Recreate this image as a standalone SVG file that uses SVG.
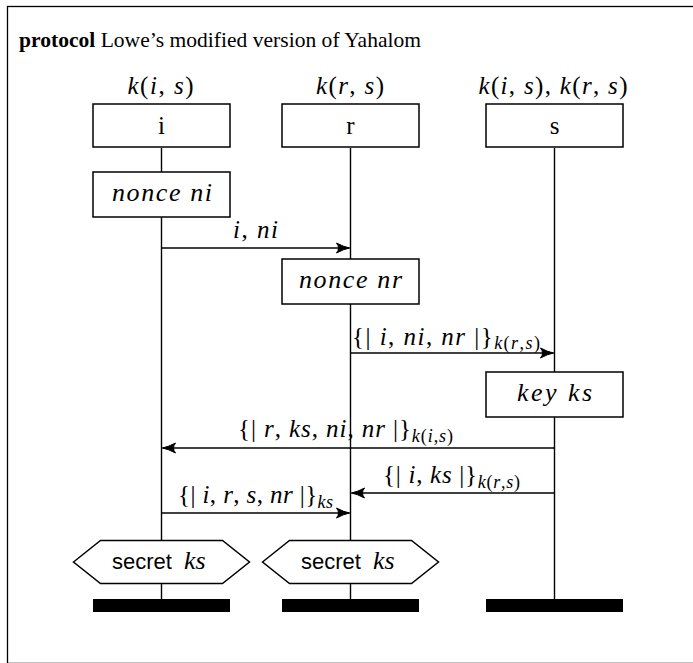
<svg xmlns="http://www.w3.org/2000/svg" width="693" height="663" viewBox="0 0 693 663">
<defs>
<marker id="arr" markerWidth="16" markerHeight="12" refX="0" refY="0" viewBox="-14 -6 15 12" orient="auto" markerUnits="userSpaceOnUse">
<path d="M-13,-5 Q-6,-1.2 0,0 Q-6,1.2 -13,5 Q-9,0 -13,-5 Z" fill="#000" stroke="#000" stroke-width="1" stroke-linejoin="round"/>
</marker>
</defs>
<style>
.frame{fill:none;stroke:#000;stroke-width:1.3}
.box{fill:#fff;stroke:#000;stroke-width:1.5}
.life{stroke:#000;stroke-width:1.4}
.msg{stroke:#000;stroke-width:1.4;fill:none;marker-end:url(#arr)}
.bar{fill:#000}
text{font-family:"Liberation Serif",serif;font-size:25px;fill:#000}
.c{text-anchor:middle}
.it{font-style:italic}
.up{font-style:normal}
.sub{font-size:18px;font-style:italic}
.sans{font-family:"Liberation Sans",sans-serif;font-size:22px;font-style:normal}
.b{font-weight:bold}
.title{font-size:21.5px}
.nm{font-size:25px}
.lbl{font-size:26px;font-style:italic}
</style>
<rect class="frame" x="7.5" y="6.5" width="700" height="656.9"/>
<text id="title" class="title" x="19" y="47" textLength="402" lengthAdjust="spacing"><tspan class="b">protocol</tspan> Lowe’s modified version of Yahalom</text>

<g id="lifelines">
<line class="life" x1="161.5" y1="148" x2="161.5" y2="600"/>
<line class="life" x1="350.5" y1="148" x2="350.5" y2="600"/>
<line class="life" x1="554.5" y1="148" x2="554.5" y2="600"/>
</g>

<g id="node-i">
<text class="c" x="160.5" y="94" textLength="66" lengthAdjust="spacing"><tspan class="it">k</tspan>(<tspan class="it">i</tspan>, <tspan class="it">s</tspan>)</text>
<rect class="box" x="93" y="104" width="137" height="43"/>
<text class="c nm" x="161.5" y="134">i</text>
</g>
<g id="node-r">
<text class="c" x="350" y="94" textLength="68" lengthAdjust="spacing"><tspan class="it">k</tspan>(<tspan class="it">r</tspan>, <tspan class="it">s</tspan>)</text>
<rect class="box" x="282" y="104" width="137" height="43"/>
<text class="c nm" x="350.5" y="134">r</text>
</g>
<g id="node-s">
<text class="c" x="553" y="94" textLength="149" lengthAdjust="spacing"><tspan class="it">k</tspan>(<tspan class="it">i</tspan>, <tspan class="it">s</tspan>), <tspan class="it">k</tspan>(<tspan class="it">r</tspan>, <tspan class="it">s</tspan>)</text>
<rect class="box" x="486" y="104" width="137" height="43"/>
<text class="c nm" x="554.5" y="134">s</text>
</g>

<g id="nonce-ni">
<rect class="box" x="93" y="172" width="137" height="45"/>
<text class="c lbl" x="162" y="201" textLength="100" lengthAdjust="spacing">nonce ni</text>
</g>
<g id="nonce-nr">
<rect class="box" x="282" y="259" width="137" height="45"/>
<text class="c lbl" x="350.5" y="288" textLength="103" lengthAdjust="spacing">nonce nr</text>
</g>
<g id="key-ks">
<rect class="box" x="486" y="372" width="137" height="45"/>
<text class="c lbl" x="554.5" y="401" textLength="75" lengthAdjust="spacing">key ks</text>
</g>

<g id="secret-i">
<polygon class="box" points="73.5,562 100.5,540.5 222.5,540.5 249.5,562 222.5,583.5 100.5,583.5"/>
<text x="112" y="569"><tspan class="sans">secret</tspan><tspan class="lbl" x="184">ks</tspan></text>
</g>
<g id="secret-r">
<polygon class="box" points="262.5,562 289.5,540.5 411.5,540.5 438.5,562 411.5,583.5 289.5,583.5"/>
<text x="301" y="569"><tspan class="sans">secret</tspan><tspan class="lbl" x="373">ks</tspan></text>
</g>

<g id="end-i"><rect class="bar" x="93" y="599" width="137" height="13"/></g>
<g id="end-r"><rect class="bar" x="282" y="599" width="137" height="13"/></g>
<g id="end-s"><rect class="bar" x="486" y="599" width="137" height="13"/></g>

<g id="connectors">
<line class="msg" x1="161.5" y1="248" x2="349.5" y2="248"/>
<text class="c" x="255.5" y="238" textLength="45" lengthAdjust="spacing"><tspan class="it">i</tspan>, <tspan class="it">ni</tspan></text>

<line class="msg" x1="350.5" y1="353" x2="553.5" y2="353"/>
<text x="352" y="345" textLength="188" lengthAdjust="spacing">{| <tspan class="it">i</tspan>, <tspan class="it">ni</tspan>, <tspan class="it">nr</tspan> |}<tspan class="sub" dy="4">k<tspan class="up">(</tspan>r<tspan class="up">,</tspan>s<tspan class="up">)</tspan></tspan></text>

<line class="msg" x1="554.5" y1="448" x2="162.5" y2="448"/>
<text x="238" y="437" textLength="215" lengthAdjust="spacing">{| <tspan class="it">r</tspan>, <tspan class="it">ks</tspan>, <tspan class="it">ni</tspan>, <tspan class="it">nr</tspan> |}<tspan class="sub" dy="5">k<tspan class="up">(</tspan>i<tspan class="up">,</tspan>s<tspan class="up">)</tspan></tspan></text>

<line class="msg" x1="554.5" y1="493" x2="351.5" y2="493"/>
<text x="383" y="483" textLength="137" lengthAdjust="spacing">{| <tspan class="it">i</tspan>, <tspan class="it">ks</tspan> |}<tspan class="sub" dy="5">k<tspan class="up">(</tspan>r<tspan class="up">,</tspan>s<tspan class="up">)</tspan></tspan></text>

<line class="msg" x1="161.5" y1="513" x2="349.5" y2="513"/>
<text x="178" y="503" textLength="155" lengthAdjust="spacing">{| <tspan class="it">i</tspan>, <tspan class="it">r</tspan>, <tspan class="it">s</tspan>, <tspan class="it">nr</tspan> |}<tspan class="sub" dy="5">ks</tspan></text>
</g>
</svg>
